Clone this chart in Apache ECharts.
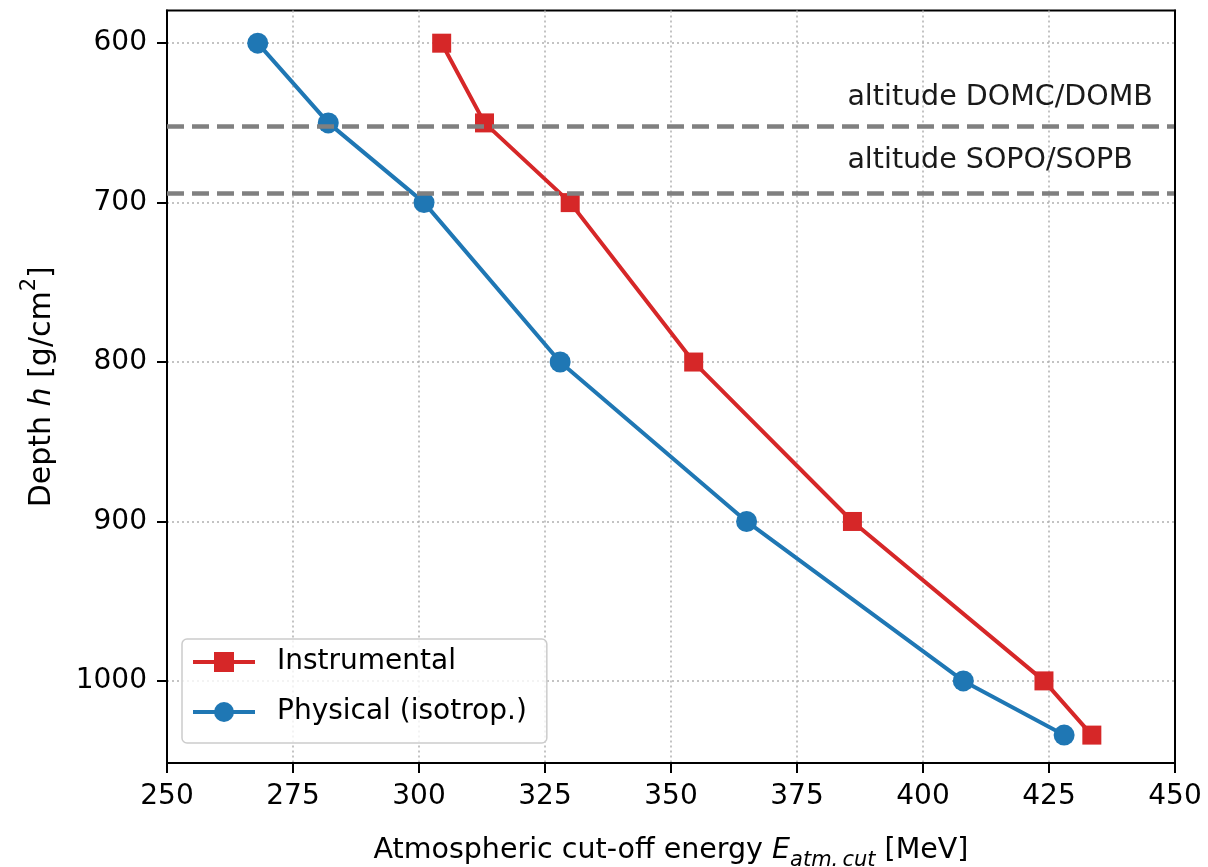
<!DOCTYPE html>
<html>
<head>
<meta charset="utf-8">
<title>Atmospheric cut-off energy vs depth</title>
<script src="https://cdn.jsdelivr.net/npm/echarts@6/dist/echarts.min.js"></script>
<style>
  html, body { margin: 0; padding: 0; background: #ffffff; }
  #chart { width: 1208px; height: 867px; }
</style>
</head>
<body>
<div id="chart"></div>
<script>
// Atmospheric depth h [g/cm^2] at which each cut-off energy was evaluated
const depths = [600, 650, 700, 800, 900, 1000, 1034];
// Cut-off energies [MeV]
const instrumental = [304.5, 313, 330, 354.5, 386, 424, 433.5];
const physical = [268, 282, 301, 328, 365, 408, 428];

// Station altitudes expressed as depth, with their labels
const stationDepths = [652, 694];
const stationLabels = ['altitude DOMC/DOMB', 'altitude SOPO/SOPB'];
const stationLabelAnchors = [[385, 634], [385, 673.5]];

// Axis ticks
const depthTicks = [600, 700, 800, 900, 1000];
const energyTicks = [250, 275, 300, 325, 350, 375, 400, 425, 450];
const depthRange = [579.5, 1051.5];

const FONT = '"DejaVu Sans", sans-serif';
const RED = '#d62728';
const BLUE = '#1f77b4';

function pairs(xs, ys) {
  return xs.map((x, i) => [x, ys[i]]);
}

const chart = echarts.init(document.getElementById('chart'), null, { renderer: 'canvas' });

chart.setOption({
  animation: false,
  backgroundColor: '#ffffff',
  grid: {
    left: 167, right: 33, top: 10.5, bottom: 104,
    outerBoundsMode: 'none',
    containLabel: false,
    show: true, borderColor: '#000000', borderWidth: 2, backgroundColor: 'transparent'
  },
  legend: {
    orient: 'vertical',
    left: 182, top: 639,
    itemWidth: 62, itemHeight: 25, itemGap: 22,
    padding: [9, 20, 17, 9],
    backgroundColor: 'rgba(255,255,255,0.8)',
    borderColor: '#cccccc', borderWidth: 1.5, borderRadius: 5,
    lineStyle: { width: 4 },
    textStyle: { fontFamily: FONT, fontSize: 28, color: '#000', lineHeight: 28, padding: [0, 0, 0, 17] },
    data: ['Instrumental', 'Physical (isotrop.)']
  },
  xAxis: {
    type: 'value',
    min: energyTicks[0], max: energyTicks[energyTicks.length - 1], interval: 25,
    name: '{n|Atmospheric cut-off energy }{i|E}{s|atm.\u2009cut}{n| [MeV]}',
    nameLocation: 'middle', nameGap: 68,
    nameTextStyle: {
      rich: {
        n: { fontFamily: FONT, fontSize: 28.5, color: '#000', lineHeight: 34, verticalAlign: 'bottom' },
        i: { fontFamily: FONT, fontSize: 28.5, fontStyle: 'italic', color: '#000', lineHeight: 34, verticalAlign: 'bottom' },
        s: { fontFamily: FONT, fontSize: 21, fontStyle: 'italic', color: '#000', lineHeight: 26, verticalAlign: 'bottom', padding: [0, 0, -6, 0] }
      }
    },
    axisLine: { show: true, onZero: false, lineStyle: { color: '#000', width: 2 } },
    axisTick: { show: true, length: 10, lineStyle: { color: '#000', width: 2 } },
    axisLabel: { fontFamily: FONT, fontSize: 28, color: '#000', margin: 20 },
    splitLine: { show: true, lineStyle: { color: '#b0b0b0', width: 1.5, type: [2, 3] } }
  },
  yAxis: [
    {
      type: 'value',
      inverse: true,
      min: depthRange[0], max: depthRange[1],
      name: '{n|Depth }{i|h}{n| [g/cm}{p|2}{n|]}',
      nameLocation: 'middle', nameGap: 110, nameRotate: 90,
      nameTextStyle: {
        rich: {
          n: { fontFamily: FONT, fontSize: 30, color: '#000', lineHeight: 38, verticalAlign: 'bottom' },
          i: { fontFamily: FONT, fontSize: 30, fontStyle: 'italic', color: '#000', lineHeight: 38, verticalAlign: 'bottom' },
          p: { fontFamily: FONT, fontSize: 21, color: '#000', lineHeight: 38, verticalAlign: 'top' }
        }
      },
      axisLine: { show: true, onZero: false, lineStyle: { color: '#000', width: 2 } },
      axisTick: { show: true, length: 10, customValues: depthTicks, lineStyle: { color: '#000', width: 2 } },
      axisLabel: {
        fontFamily: FONT, fontSize: 28, color: '#000', margin: 20,
        customValues: depthTicks,
        formatter: v => String(v)
      },
      splitLine: { show: true, lineStyle: { color: '#b0b0b0', width: 1.5, type: [2, 3] } }
    },
    {
      // right-hand frame edge, kept solid above the grid lines
      type: 'value',
      inverse: true,
      position: 'right',
      min: depthRange[0], max: depthRange[1],
      z: 10,
      axisLine: { show: true, onZero: false, lineStyle: { color: '#000', width: 2 } },
      axisTick: { show: false },
      axisLabel: { show: false },
      splitLine: { show: false }
    }
  ],
  series: [
    {
      // Station altitude reference lines and their annotations
      name: 'stations',
      type: 'line',
      data: [],
      z: 1,
      silent: true,
      markLine: {
        silent: true,
        symbol: 'none',
        animation: false,
        label: { show: false },
        lineStyle: { color: '#808080', width: 4.5, type: [17, 8] },
        data: stationDepths.map(d => ({ yAxis: d }))
      },
      markPoint: {
        silent: true,
        symbol: 'circle',
        symbolSize: 0,
        animation: false,
        label: {
          show: true, position: [0, 0], align: 'left', verticalAlign: 'middle',
          fontFamily: FONT, fontSize: 28.5, color: '#1a1a1a',
          formatter: p => p.name
        },
        data: stationLabels.map((t, i) => ({ name: t, coord: stationLabelAnchors[i] }))
      }
    },
    {
      name: 'Instrumental',
      type: 'line',
      z: 3,
      data: pairs(instrumental, depths),
      symbol: 'rect',
      symbolSize: 19,
      color: RED,
      itemStyle: { color: RED },
      lineStyle: { color: RED, width: 4 }
    },
    {
      name: 'Physical (isotrop.)',
      type: 'line',
      z: 3,
      data: pairs(physical, depths),
      symbol: 'circle',
      symbolSize: 21,
      color: BLUE,
      itemStyle: { color: BLUE },
      lineStyle: { color: BLUE, width: 4 }
    }
  ]
});
</script>
</body>
</html>
